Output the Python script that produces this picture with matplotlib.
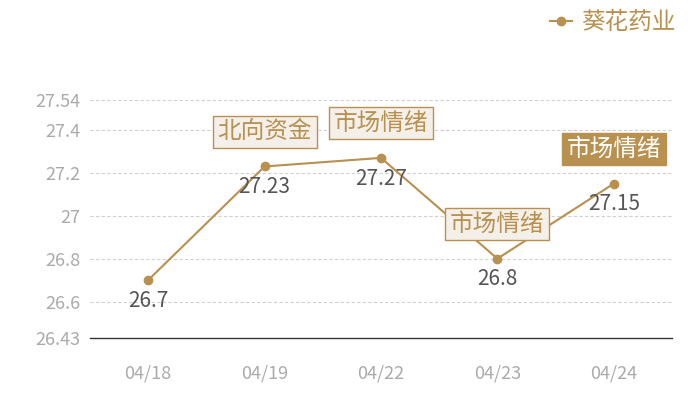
import matplotlib
matplotlib.use("Agg")
import matplotlib.pyplot as plt

plt.rcParams['font.family'] = ['Noto Sans CJK SC', 'DejaVu Sans']

dates = ["04/18", "04/19", "04/22", "04/23", "04/24"]
values = [26.7, 27.23, 27.27, 26.8, 27.15]
tags = [None, "北向资金", "市场情绪", "市场情绪", "市场情绪"]
tag_filled = [False, False, False, False, True]
yticks = [26.43, 26.6, 26.8, 27.0, 27.2, 27.4, 27.54]
ytick_labels = ["26.43", "26.6", "26.8", "27", "27.2", "27.4", "27.54"]
series_name = "葵花药业"

gold = "#b8904f"
fig = plt.figure(figsize=(7, 4), dpi=100)
ax = fig.add_axes([90/700, 62/400, 582/700, 238/400])
x = list(range(len(dates)))
ax.plot(x, values, color=gold, lw=1.5, marker='o', ms=6, label=series_name, zorder=3)
ax.set_xlim(-0.5, len(dates) - 0.5)
ax.set_ylim(yticks[0], yticks[-1])
ax.set_yticks(yticks)
ax.set_yticklabels(ytick_labels)
ax.set_xticks(x)
ax.set_xticklabels(dates)
ax.tick_params(axis='both', length=0, colors="#aaaaaa", labelsize=13)
ax.tick_params(axis='x', pad=19)
ax.tick_params(axis='y', pad=7)
for t in yticks[1:]:
    ax.axhline(t, color="#d0d0d0", lw=0.8, ls=(0, (3, 2)), zorder=1)
for s in ['top', 'right', 'left']:
    ax.spines[s].set_visible(False)
ax.spines['bottom'].set_color("#333333")
ax.spines['bottom'].set_linewidth(1)

for i, v in enumerate(values):
    ax.annotate(f"{v:g}", (i, v), xytext=(0, -15), textcoords='offset points',
                ha='center', va='center', fontsize=15, color="#555555", zorder=4)
    if tags[i]:
        if tag_filled[i]:
            bbox = dict(boxstyle='square,pad=0.2', fc=gold, ec=gold, lw=1)
            tc = "white"
        else:
            bbox = dict(boxstyle='square,pad=0.2', fc="#f4efe9", ec=gold, lw=1)
            tc = gold
        ax.annotate(tags[i], (i, v), xytext=(0, 25), textcoords='offset points',
                    ha='center', va='center', fontsize=17, color=tc, bbox=bbox, zorder=5)

leg = fig.legend(handles=ax.get_lines()[:1], labels=[series_name], loc='upper right',
                 bbox_to_anchor=(0.995, 1.025), frameon=False, fontsize=17,
                 handlelength=0.95, handletextpad=0.35, labelcolor=gold)
fig.savefig("out.png", dpi=100)
